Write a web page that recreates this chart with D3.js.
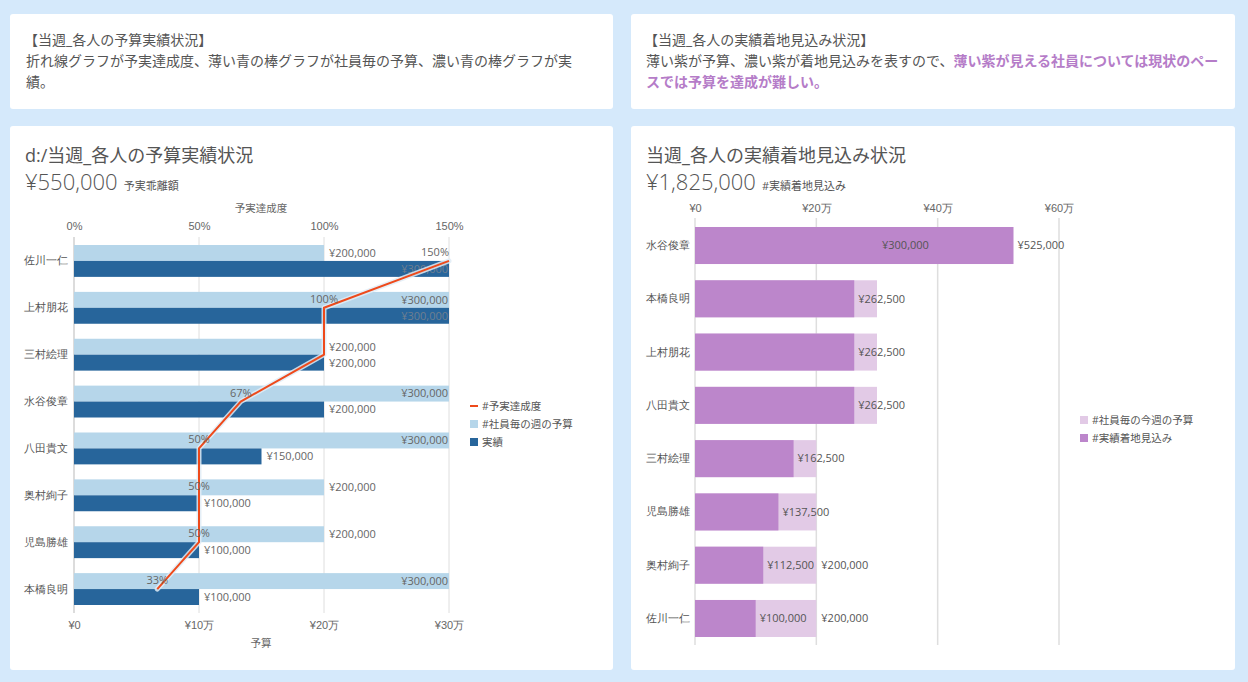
<!DOCTYPE html>
<html><head><meta charset="utf-8">
<script src="https://cdn.jsdelivr.net/npm/d3@7"></script>
<style>
html,body{margin:0;padding:0;background:#d5e9fb;}
svg{display:block;font-family:"Open Sans","Noto Sans CJK JP",sans-serif;}
</style></head>
<body><svg id="c" width="1248" height="682"></svg>
<script>
// ---- data ----
const leftNames = ["佐川一仁","上村朋花","三村絵理","水谷俊章","八田貴文","奥村絢子","児島勝雄","本橋良明"];
const leftBudget = [200000,300000,200000,300000,300000,200000,200000,300000];
const leftActual = [300000,300000,200000,200000,150000,100000,100000,100000];
const leftRate = [1.5,1.0,1.0,0.667,0.5,0.5,0.5,0.333];
const leftRateLabels = ["150%","100%","","67%","50%","50%","50%","33%"];
const leftBottomTicks = [0,100000,200000,300000];
const leftBottomTickLabels = ["¥0","¥10万","¥20万","¥30万"];
const leftTopTicks = [0,0.5,1.0,1.5];
const leftTopTickLabels = ["0%","50%","100%","150%"];

const rightNames = ["水谷俊章","本橋良明","上村朋花","八田貴文","三村絵理","児島勝雄","奥村絢子","佐川一仁"];
const rightBudget = [300000,300000,300000,300000,200000,200000,200000,200000];
const rightForecast = [525000,262500,262500,262500,162500,137500,112500,100000];
const rightTicks = [0,200000,400000,600000];
const rightTickLabels = ["¥0","¥20万","¥40万","¥60万"];

const C = {lightBlue:"#b6d6ea", darkBlue:"#27659b", orange:"#ee4a1b", lightPurple:"#e2cae6", darkPurple:"#bc86cb", text:"#555", sub:"#666", grid:"#dedede", purpleText:"#b57cc8"};
const fmt = v => "¥" + d3.format(",")(v);

const svg = d3.select("#c");
// cards
[[10,14,603,95],[631,14,604,95],[10,126,603,544],[631,126,604,544]].forEach(r=>{
  svg.append("rect").attr("x",r[0]).attr("y",r[1]).attr("width",r[2]).attr("height",r[3]).attr("rx",3).attr("fill","#fff");
});

// header texts
function txt(x,y,s,size,color,opts={}){
  const t = svg.append("text").attr("x",x).attr("y",y).attr("font-size",size).attr("fill",color).text(s);
  if(opts.anchor) t.attr("text-anchor",opts.anchor);
  if(opts.weight) t.attr("font-weight",opts.weight);
  return t;
}
txt(24,45,"【当週_各人の予算実績状況】",14,C.text);
txt(26,66,"折れ線グラフが予実達成度、薄い青の棒グラフが社員毎の予算、濃い青の棒グラフが実",14,C.text);
txt(26,87,"績。",14,C.text);

txt(644,45,"【当週_各人の実績着地見込み状況】",14,C.text);
const t2 = svg.append("text").attr("x",646).attr("y",66).attr("font-size",14).attr("fill",C.text);
t2.append("tspan").text("薄い紫が予算、濃い紫が着地見込みを表すので、");
t2.append("tspan").attr("fill",C.purpleText).attr("font-weight","bold").text("薄い紫が見える社員については現状のペー");
txt(646,87,"スでは予算を達成が難しい。",14,C.purpleText,{weight:"bold"});

// ---------- Left chart ----------
txt(25,162,"d:/当週_各人の予算実績状況",18,C.text);
const big1 = svg.append("text").attr("x",25).attr("y",190).attr("fill",C.text);
big1.append("tspan").attr("font-size",22).attr("font-weight",300).text("¥550,000");
big1.append("tspan").attr("font-size",11).attr("dx",6).text("予実乖離額");

const xL = d3.scaleLinear().domain([0,300000]).range([74,449]);
const pL = d3.scaleLinear().domain([0,1.5]).range([74,449]);
const yL = d3.scaleBand().domain(leftNames).range([237.5,612.5]).paddingInner(0.32).paddingOuter(0.16);
const bw = yL.bandwidth()/2;

const gL = svg.append("g");
gL.selectAll(".gl").data(leftBottomTicks).join("line")
  .attr("x1",d=>xL(d)).attr("x2",d=>xL(d)).attr("y1",237).attr("y2",613)
  .attr("stroke",(d,i)=>i===0?"#d0d0d0":C.grid).attr("stroke-width",(d,i)=>i===0?1.5:1);

const axB = svg.append("g").attr("transform","translate(0,619)")
  .call(d3.axisBottom(xL).tickValues(leftBottomTicks).tickFormat((d,i)=>leftBottomTickLabels[i]).tickSize(0).tickPadding(0));
const axT = svg.append("g").attr("transform","translate(0,230)")
  .call(d3.axisTop(pL).tickValues(leftTopTicks).tickFormat((d,i)=>leftTopTickLabels[i]).tickSize(0).tickPadding(0));
[axB,axT].forEach(a=>{a.select(".domain").remove(); a.selectAll("text").attr("font-size",11).attr("fill",C.sub).attr("font-family",null);});
axB.selectAll("text").attr("dy","0.71em").attr("y",2);
txt(261,212,"予実達成度",10.5,C.sub,{anchor:"middle"});
txt(261,647,"予算",10.5,C.sub,{anchor:"middle"});

const axYL = svg.append("g").attr("transform","translate(68,0)")
  .call(d3.axisLeft(yL).tickSize(0).tickPadding(0));
axYL.select(".domain").remove();
axYL.selectAll("text").attr("font-size",11).attr("fill",C.text).attr("font-family",null);

gL.selectAll(".bud").data(leftNames).join("rect")
  .attr("x",xL(0)).attr("y",d=>yL(d)).attr("height",bw)
  .attr("width",(d,i)=>xL(leftBudget[i])-xL(0)).attr("fill",C.lightBlue);
gL.selectAll(".act").data(leftNames).join("rect")
  .attr("x",xL(0)).attr("y",d=>yL(d)+bw).attr("height",bw)
  .attr("width",(d,i)=>xL(leftActual[i])-xL(0)).attr("fill",C.darkBlue);

function barLabel(g,v,yc,scale,insideColor,outsideColor){
  const xe = scale(v), xmax = scale.range()[1];
  const inside = xe + 55 > xmax + 2;
  g.append("text").attr("x",inside? xmax-1 : xe+5).attr("y",yc).attr("dy","0.35em")
   .attr("text-anchor",inside?"end":"start").attr("font-size",11)
   .attr("fill",inside?insideColor:outsideColor).text(fmt(v));
}
leftNames.forEach((n,i)=>{
  barLabel(gL,leftBudget[i],yL(n)+bw/2,xL,"#666",C.sub);
  barLabel(gL,leftActual[i],yL(n)+bw*1.5,xL,"#6f7f90",C.sub);
});

const line = d3.line().x((d,i)=>pL(leftRate[i])).y((d,i)=>yL(leftNames[i])+bw);
gL.append("path").datum(leftNames).attr("d",line).attr("fill","none")
  .attr("stroke","rgba(225,236,246,0.85)").attr("stroke-width",5).attr("stroke-linejoin","round").attr("stroke-linecap","round");
gL.append("path").datum(leftNames).attr("d",line).attr("fill","none")
  .attr("stroke",C.orange).attr("stroke-width",2);
leftNames.forEach((n,i)=>{
  if(!leftRateLabels[i]) return;
  let x = pL(leftRate[i]);
  const w = leftRateLabels[i].length*7;
  if(x + w/2 > 449) x = 449 - w/2;
  gL.append("text").attr("x",x).attr("y",yL(n)+bw-5).attr("text-anchor","middle")
    .attr("font-size",11).attr("fill","#666").text(leftRateLabels[i]);
});

svg.append("line").attr("x1",470).attr("x2",478).attr("y1",406).attr("y2",406).attr("stroke",C.orange).attr("stroke-width",2);
txt(482,410,"#予実達成度",10.5,C.text);
svg.append("rect").attr("x",470).attr("y",420).attr("width",8).attr("height",8).attr("fill",C.lightBlue);
txt(482,428,"#社員毎の週の予算",10.5,C.text);
svg.append("rect").attr("x",470).attr("y",438).attr("width",8).attr("height",8).attr("fill",C.darkBlue);
txt(482,446,"実績",10.5,C.text);

// ---------- Right chart ----------
txt(646,162,"当週_各人の実績着地見込み状況",18,C.text);
const big2 = svg.append("text").attr("x",646).attr("y",190).attr("fill",C.text);
big2.append("tspan").attr("font-size",22).attr("font-weight",300).text("¥1,825,000");
big2.append("tspan").attr("font-size",11).attr("dx",6).text("#実績着地見込み");

const xR = d3.scaleLinear().domain([0,600000]).range([695,1059]);
const yR = d3.scaleBand().domain(rightNames).range([219,645]).paddingInner(0.305).paddingOuter(0.15);
const gR = svg.append("g");
gR.selectAll("line").data(rightTicks).join("line")
  .attr("x1",d=>xR(d)).attr("x2",d=>xR(d)).attr("y1",218).attr("y2",645)
  .attr("stroke",C.grid).attr("stroke-width",1.5);
const axR = svg.append("g").attr("transform","translate(0,212)")
  .call(d3.axisTop(xR).tickValues(rightTicks).tickFormat((d,i)=>rightTickLabels[i]).tickSize(0).tickPadding(0));
axR.select(".domain").remove();
axR.selectAll("text").attr("font-size",11).attr("fill",C.sub).attr("font-family",null);
const axYR = svg.append("g").attr("transform","translate(690,0)")
  .call(d3.axisLeft(yR).tickSize(0).tickPadding(0));
axYR.select(".domain").remove();
axYR.selectAll("text").attr("font-size",11).attr("fill",C.text).attr("font-family",null);

gR.selectAll(".rb").data(rightNames).join("rect")
  .attr("x",xR(0)).attr("y",d=>yR(d)).attr("height",yR.bandwidth())
  .attr("width",(d,i)=>xR(rightBudget[i])-xR(0)).attr("fill",C.lightPurple);
gR.selectAll(".rf").data(rightNames).join("rect")
  .attr("x",xR(0)).attr("y",d=>yR(d)).attr("height",yR.bandwidth())
  .attr("width",(d,i)=>xR(rightForecast[i])-xR(0)).attr("fill",C.darkPurple);
const LW = 47;
rightNames.forEach((n,i)=>{
  const yc = yR(n)+yR.bandwidth()/2;
  const fx = xR(rightForecast[i])+4, bx = xR(rightBudget[i])+5;
  gR.append("text").attr("x",fx).attr("y",yc).attr("dy","0.35em").attr("font-size",11).attr("fill",C.text).text(fmt(rightForecast[i]));
  const overlap = !(bx > fx+LW || bx+LW < fx);
  if(!overlap) gR.append("text").attr("x",bx).attr("y",yc).attr("dy","0.35em").attr("font-size",11).attr("fill",C.text).text(fmt(rightBudget[i]));
});

svg.append("rect").attr("x",1080).attr("y",416).attr("width",8).attr("height",8).attr("fill",C.lightPurple);
txt(1092,424,"#社員毎の今週の予算",10.5,C.text);
svg.append("rect").attr("x",1080).attr("y",434).attr("width",8).attr("height",8).attr("fill",C.darkPurple);
txt(1092,442,"#実績着地見込み",10.5,C.text);
</script></body></html>
